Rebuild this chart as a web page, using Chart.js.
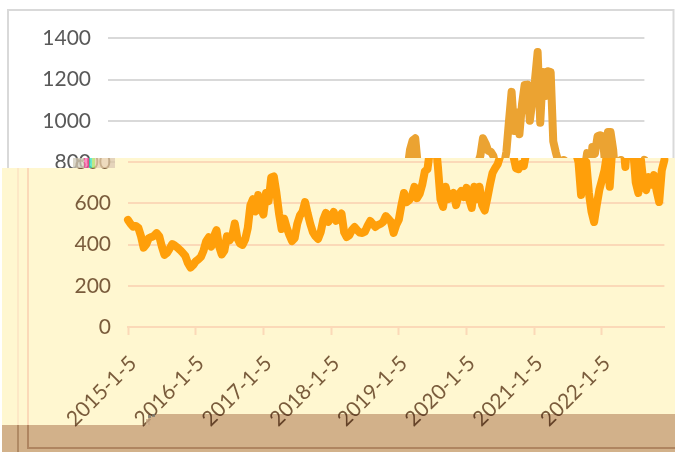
<!DOCTYPE html>
<html>
<head>
<meta charset="utf-8">
<script src="https://cdn.jsdelivr.net/npm/chart.js@4"></script>
<style>
html,body{margin:0;padding:0;background:#fff;width:675px;height:452px;overflow:hidden}
canvas{position:absolute;left:0;top:0}
#lower{clip-path:polygon(2px 168px,73px 168px,73px 158px,675px 158px,675px 452px,2px 452px)}
</style>
</head>
<body>
<canvas id="upper" width="675" height="452"></canvas>
<canvas id="lower" width="675" height="452"></canvas>
<script>
const tickLabels = ['2015-1-5','2016-1-5','2017-1-5','2018-1-5','2019-1-5','2020-1-5','2021-1-5','2022-1-5'];
const pointsPerYear = 26;
const values = [
519,500,486,490,480,440,385,400,431,436,442,455,440,390,350,360,380,402,395,385,
373,360,345,310,288,300,318,328,340,370,415,435,390,440,470,390,352,370,440,420,
440,502,430,405,398,425,480,590,620,560,640,580,545,650,610,725,730,650,550,475,
525,480,445,417,430,500,540,558,606,550,500,460,440,427,460,520,553,510,535,558,
515,530,550,460,436,445,470,485,470,458,456,462,490,514,500,485,495,500,510,538,
525,510,456,495,520,590,650,605,615,635,680,625,645,690,755,765,860,905,915,780,
620,582,680,620,640,650,591,640,660,630,675,620,577,680,620,680,590,565,625,690,
747,770,790,830,915,890,855,850,830,770,765,790,780,850,1000,1140,950,1040,935,1080,
1173,1175,1000,1100,1200,1333,990,1236,1120,1240,1236,900,845,800,640,810,800,650,560,509,
590,664,712,760,843,680,873,840,925,930,925,776,945,945,860,700,650,810,690,664,
727,690,737,660,606,760,810
];
const categories = values.map((v,i)=> i%pointsPerYear===0 ? tickLabels[i/pointsPerYear] : '');

const cream = '#FFF7D0';
const fontFamily = 'Lato, "Open Sans", sans-serif';

function makeChart(id, o){
  return new Chart(document.getElementById(id), {
    type:'line',
    data:{labels:categories, datasets:[{data:values, borderColor:o.line, borderWidth:8,
      pointRadius:0, tension:0, fill:false, borderCapStyle:'round', borderJoinStyle:'round', clip:false}]},
    plugins:[o.plugin],
    options:{
      responsive:false, animation:false, events:[],
      layout:{padding:{top:38.25,right:o.right,left:0,bottom:0}},
      plugins:{legend:{display:false},tooltip:{enabled:false},title:{display:false}},
      scales:{
        x:{
          type:'category',
          afterBuildTicks(a){a.ticks=a.ticks.filter(t=>categories[t.value]!=='');},
          afterFit(a){a.height=125;},
          border:{color:o.grid,width:2},
          grid:{display:true,drawOnChartArea:false,drawTicks:true,tickLength:8,tickColor:o.grid,tickWidth:2},
          ticks:{display:true,autoSkip:false,minRotation:45,maxRotation:45,color:o.text,padding:16,labelOffset:5,
            font:{family:fontFamily,size:21}}
        },
        y:{
          min:0,max:1400,
          afterFit(a){a.width=o.left;},
          border:{display:false},
          grid:{color:o.grid,lineWidth:2,drawTicks:false},
          ticks:{stepSize:200,color:o.text,padding:17,font:{family:fontFamily,size:21},
            callback:(v)=>String(v)}
        }
      }
    }
  });
}

const upperDeco = {id:'upperDeco',beforeDraw(c){
  const x=c.ctx;x.save();x.fillStyle='#fff';x.fillRect(0,0,675,452);
  x.strokeStyle='#D9D9D9';x.lineWidth=2;x.strokeRect(8,10,665.5,440);x.restore();
}};

const lowerDeco = {id:'lowerDeco',
  beforeDraw(c){
    const x=c.ctx;x.save();
    x.fillStyle=cream;
    x.fillRect(2,168,673,284);
    x.fillRect(115,158,560,10);
    x.fillStyle='#FDE8C6';
    x.fillRect(17,168,2,284);
    x.fillStyle='#FBD9B8';
    x.fillRect(27,168,2,280);
    x.fillRect(27,447,648,2);
    x.restore();
  },
  afterDraw(c){
    const x=c.ctx;x.save();
    x.globalCompositeOperation='multiply';
    x.fillStyle='rgb(210,183,169)';
    x.fillRect(2,425,673,27);
    x.fillRect(148,414,527,11);
    x.globalCompositeOperation='source-over';
    x.fillStyle='rgba(150,115,75,0.55)';
    x.fillRect(17,425,2,27);
    x.fillRect(27,425,2,24);
    x.fillRect(29,447,646,2);
    const noise=[[73,'#cfc9b8'],[81,'#dcd6c4'],[84,'#ff66b0'],[87,'#ff4fa0'],[89,'#37e0c0'],[92,'#a8e060'],[95,'#e5cdaa'],[102,'#e8cfa8'],[108,'#dcc6a4']];
    noise.forEach((n,i)=>{
      const next=i<noise.length-1?noise[i+1][0]:115;
      x.globalAlpha=0.75;x.fillStyle=n[1];x.fillRect(n[0],158,next-n[0],10);
    });
    x.globalAlpha=0.8;
    x.fillStyle='#7d7d70';x.fillRect(148,415,3,3);x.fillRect(152,414,3,3);
    x.fillStyle='#c8a884';x.fillRect(146,419,4,6);
    x.restore();
  }
};

makeChart('upper',{line:'#EBA332',grid:'#D9D9D9',text:'#595959',left:108,right:30.6,plugin:upperDeco});
makeChart('lower',{line:'#FF9F0A',grid:'#FBD9B8',text:'#7A5C3C',left:128,right:10.6,plugin:lowerDeco});
</script>
</body>
</html>
